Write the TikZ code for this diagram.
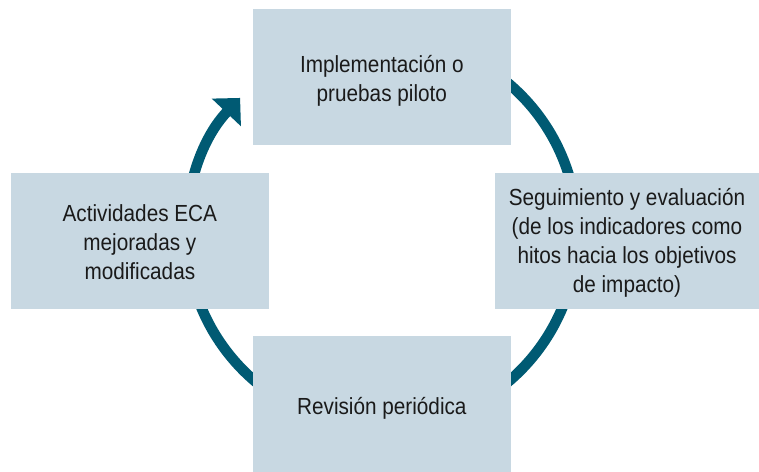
\documentclass[tikz,border=0pt]{standalone}
\usepackage{fontspec}
\setmainfont{Liberation Sans}[FakeStretch=0.89]
\usetikzlibrary{arrows.meta}
\definecolor{boxfill}{RGB}{200,216,226}
\definecolor{ringcol}{RGB}{0,90,115}
\definecolor{txtcol}{RGB}{26,26,26}
\begin{document}
\begin{tikzpicture}[x=1pt,y=-1pt,
  stagebox/.style={fill=boxfill, draw=none, inner sep=0pt},
  stagetext/.style={inner sep=0pt, align=center,
    text=txtcol, font=\fontsize{23.3}{29}\selectfont},
  ring/.style={draw=ringcol, line width=10.5pt}]
\useasboundingbox (0,0) rectangle (759,471);
\coordinate (c) at (381.9,232.5);
% ring with arrow
\draw[ring, -{Triangle[width=39pt,length=20pt]}] (c) ++(100:195.5 and -195.5) coordinate (s)
  arc[start angle=100, end angle=-223.5, x radius=195.5, y radius=-195.5];
% boxes
\node[stagebox, minimum width=257.7pt, minimum height=136pt] (top) at (381.85,77) {};
\node[stagebox, minimum width=264pt, minimum height=136pt] (right) at (627,241) {};
\node[stagebox, minimum width=257.7pt, minimum height=136pt] (bottom) at (381.85,404) {};
\node[stagebox, minimum width=257.7pt, minimum height=136pt] (left) at (139.85,241) {};
% texts
\node[stagetext] (toptext) at ([yshift=-4pt]top.center) {Implementación o\\pruebas piloto};
\node[stagetext] (righttext) at ([yshift=-2pt]right.center)
  {Seguimiento y evaluación\\(de los indicadores como\\hitos hacia los objetivos\\de impacto)};
\node[stagetext] (bottomtext) at ([yshift=-4pt]bottom.center) {Revisión periódica};
\node[stagetext] (lefttext) at ([yshift=-1pt]left.center) {Actividades ECA\\mejoradas y\\modificadas};
\end{tikzpicture}
\end{document}
